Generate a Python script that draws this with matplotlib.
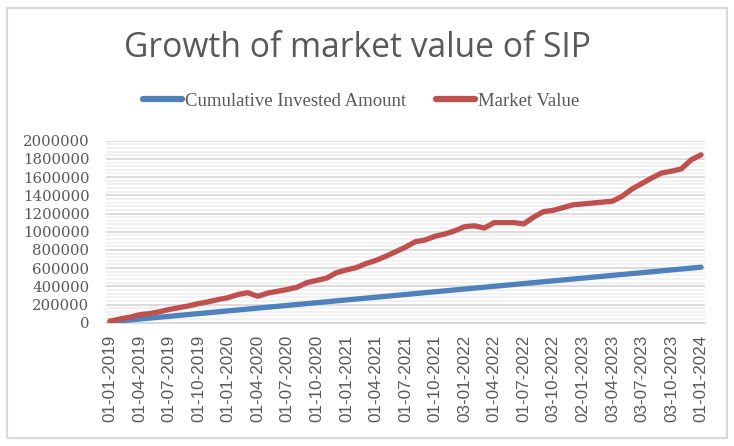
import matplotlib
matplotlib.use("Agg")
import matplotlib.pyplot as plt
from matplotlib.patches import Rectangle
from matplotlib.ticker import MultipleLocator, FuncFormatter

# ---- data (monthly, Jan 2019 .. Jan 2024) ----
invested = [10000 * (i + 1) for i in range(61)]
market_value = [
    18000, 40000, 60000, 88000, 100000, 120000, 145000, 165000, 185000, 210000,
    230000, 255000, 275000, 310000, 330000, 290000, 325000, 345000, 365000, 390000,
    440000, 465000, 490000, 550000, 580000, 605000, 650000, 685000, 730000, 780000,
    830000, 890000, 910000, 950000, 975000, 1010000, 1055000, 1065000, 1040000, 1100000,
    1100000, 1100000, 1085000, 1160000, 1220000, 1235000, 1265000, 1295000, 1305000, 1315000,
    1325000, 1335000, 1390000, 1470000, 1530000, 1590000, 1645000, 1665000, 1690000, 1790000,
    1845000,
]
tick_labels = [
    "01-01-2019", "01-04-2019", "01-07-2019", "01-10-2019", "01-01-2020",
    "01-04-2020", "01-07-2020", "01-10-2020", "01-01-2021", "01-04-2021",
    "01-07-2021", "01-10-2021", "03-01-2022", "01-04-2022", "01-07-2022",
    "03-10-2022", "02-01-2023", "03-04-2023", "03-07-2023", "03-10-2023",
    "01-01-2024",
]
series_names = ["Cumulative Invested Amount", "Market Value"]

W, H = 734, 446
fig = plt.figure(figsize=(W / 100, H / 100), dpi=100)
fig.patch.set_facecolor("white")

# outer chart border
border = Rectangle((7 / W, 8 / H), 720 / W, 430 / H, transform=fig.transFigure,
                   facecolor="none", edgecolor="#D9D9D9", linewidth=1.5, zorder=-1)
fig.patches.append(border)

left, right = 106 / W, 705 / W
bottom, top = 1 - 322.7 / H, 1 - 140.7 / H
ax = fig.add_axes([left, bottom, right - left, top - bottom])
ax.patch.set_alpha(0)

x = list(range(len(invested)))
blue = "#4F81BD"
red = "#C0504D"
ax.plot(x, invested, color=blue, lw=3.8, solid_capstyle="round",
        solid_joinstyle="round", label=series_names[0], zorder=3)
ax.plot(x, market_value, color=red, lw=3.8, solid_capstyle="round",
        solid_joinstyle="round", label=series_names[1], zorder=3)

ax.set_xlim(-0.4, 60.4)
ax.set_ylim(0, 2000000)
ax.yaxis.set_major_locator(MultipleLocator(200000))
ax.yaxis.set_minor_locator(MultipleLocator(40000))
ax.yaxis.set_major_formatter(FuncFormatter(lambda v, p: f"{int(v)}"))
ax.grid(which="major", axis="y", color="#D9D9D9", lw=1.3, zorder=1)
ax.grid(which="minor", axis="y", color="#F0F0F0", lw=1.3, zorder=0)
ax.set_axisbelow(True)

ax.set_xticks(x[::3])
ax.set_xticklabels(tick_labels, rotation=90, family="Liberation Sans",
                   fontsize=12.3, color="#595959")
for lab in ax.get_yticklabels():
    lab.set_family("DejaVu Serif")
    lab.set_fontsize(10.7)
    lab.set_color("#595959")
ax.tick_params(axis="x", length=0, pad=9)
ax.tick_params(axis="y", length=0, pad=12)
ax.tick_params(axis="y", which="minor", length=0)

for s in ["top", "right", "left"]:
    ax.spines[s].set_visible(False)
ax.spines["bottom"].set_color("#D9D9D9")
ax.spines["bottom"].set_linewidth(1.3)

fig.text(358 / W, 1 - 48 / H, "Growth of market value of SIP", ha="center",
         va="center", fontsize=24.2, family="Open Sans", color="#595959")

leg = fig.legend(loc="center", bbox_to_anchor=(361 / W, 1 - 101 / H), ncol=2,
                 frameon=False, prop={"family": "Liberation Serif", "size": 13.5},
                 handlelength=2.1, handletextpad=0.15, columnspacing=1.6)
for t in leg.get_texts():
    t.set_color("#595959")
for l in leg.get_lines():
    l.set_linewidth(4.5)

fig.savefig("out.png", dpi=100)
